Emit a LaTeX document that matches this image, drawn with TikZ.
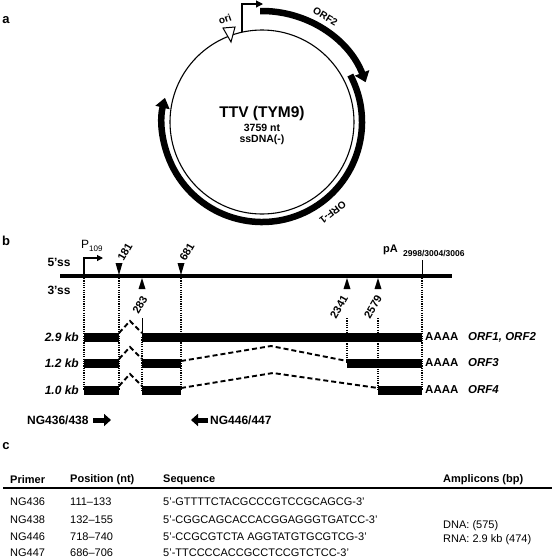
\documentclass[tikz,border=0pt]{standalone}
\usepackage{fontspec}
\setmainfont{Liberation Sans}
\usetikzlibrary{arrows.meta}
\begin{document}
\begin{tikzpicture}[x=1pt,y=-1pt,
  panel/.style={font=\bfseries\fontsize{13}{13}\selectfont, inner sep=0pt},
  blbl/.style={font=\bfseries\fontsize{12}{12}\selectfont, inner sep=0pt},
  numlbl/.style={font=\bfseries\fontsize{11}{11}\selectfont, inner sep=0pt, rotate=60},
  rowlbl/.style={font=\bfseries\itshape\fontsize{12}{12}\selectfont, inner sep=0pt, anchor=east},
  polya/.style={font=\bfseries\fontsize{11.5}{11.5}\selectfont, inner sep=0pt, anchor=west},
  orflbl/.style={font=\bfseries\itshape\fontsize{11.5}{11.5}\selectfont, inner sep=0pt, anchor=west},
  circlbl/.style={font=\bfseries\fontsize{10}{10}\selectfont, inner sep=0pt},
  dotline/.style={line width=1.2pt, dash pattern=on 1.2pt off 1.1pt},
  dashlink/.style={line width=1.9pt, dash pattern=on 5pt off 3pt},
  thead/.style={font=\bfseries\fontsize{11}{11}\selectfont, inner sep=0pt, anchor=west},
  tcell/.style={font=\fontsize{11}{11}\selectfont, inner sep=0pt, anchor=west},
  blockarrow/.style={line width=5pt, -{Triangle[length=7pt,width=12pt]}}
]
\useasboundingbox (0,0) rectangle (552,558);

% ---------------- panel a ----------------
\node[panel] (pa) at (6,20) {a};
\begin{scope}[shift={(262,122)}, y=1pt]
  \draw[line width=1.1pt] (0,0) circle[radius=92];
  % ORF2
  \draw[line width=6.5pt, -{Triangle[length=10pt,width=15pt]}] (91:111) arc[start angle=91, end angle=21, radius=111];
  % ORF1
  \draw[line width=6.5pt, -{Triangle[length=10pt,width=14pt]}] (28:100) arc[start angle=28, end angle=-194, radius=100];
  % ori
  \draw[line width=1pt, fill=white] (-39,94) -- (-27,95) -- (-31,80) -- cycle;
  \node[circlbl, rotate=20] (ori) at (-37,103) {ori};
  % promoter
  \draw[line width=1.1pt, -{Triangle[length=7pt,width=7pt]}] (-20,90) -- (-20,118) -- (1,118);
  \node[circlbl, rotate=-31] (orf2) at (59:123) {ORF2};
  \node[circlbl, rotate=-142] (orf1) at (-52:115) {ORF-1};
\end{scope}
\node[font=\bfseries\fontsize{15.5}{15.5}\selectfont, inner sep=0pt] (ttv) at (262,113) {TTV (TYM9)};
\node[font=\bfseries\fontsize{10.5}{10.5}\selectfont, inner sep=0pt] (nt) at (262,128) {3759 nt};
\node[font=\bfseries\fontsize{10.5}{10.5}\selectfont, inner sep=0pt] (ss) at (262,140) {ssDNA(-)};

% ---------------- panel b ----------------
\node[panel] (pb) at (6,241) {b};
\node[blbl] (s5) at (59,262) {5'ss};
\node[blbl] (s3) at (59,290) {3'ss};
\draw[line width=4pt] (60,276) -- (452,276);
% promoter
\draw[line width=1.1pt, -{Triangle[length=6pt,width=6pt]}] (84,276) -- (84,258) -- (103,258);
\node[font=\fontsize{12}{12}\selectfont, inner sep=0pt, anchor=west] (p109) at (81,246) {P\raisebox{-0.35ex}{\fontsize{8}{8}\selectfont 109}};
% 5'ss markers
\fill (115.5,263) -- (122.5,263) -- (119,275) -- cycle;
\fill (177.5,263) -- (184.5,263) -- (181,275) -- cycle;
\node[numlbl] (n181) at (125,252) {181};
\node[numlbl] (n681) at (187,252) {681};
% 3'ss markers
\fill (138.5,289) -- (145.5,289) -- (142,278) -- cycle;
\fill (343.5,289) -- (350.5,289) -- (347,278) -- cycle;
\fill (374.5,289) -- (381.5,289) -- (378,278) -- cycle;
\node[numlbl] (n283) at (140,305) {283};
\node[numlbl] (n2341) at (339,307) {2341};
\node[numlbl] (n2579) at (373,307) {2579};
% pA
\draw[line width=1pt] (422,260) -- (422,276);
\node[font=\bfseries\fontsize{11}{11}\selectfont, inner sep=0pt, anchor=west] (pA) at (383,250) {pA};
\node[font=\bfseries\fontsize{8.5}{8.5}\selectfont, inner sep=0pt, anchor=west] (pAsub) at (403,253) {2998/3004/3006};
% vertical guides
\draw[dotline] (84,278) -- (84,390);
\draw[dotline] (119,278) -- (119,390);
\draw[line width=0.8pt] (142,318) -- (142,333);
\draw[dotline] (142,337) -- (142,390);
\draw[dotline] (181,278) -- (181,390);
\draw[dotline] (347,318) -- (347,363);
\draw[dotline] (378,318) -- (378,390);
\draw[dotline] (422,278) -- (422,390);
% transcripts
\fill (84,332.5) rectangle (119,341.5);
\fill (142,332.5) rectangle (422,341.5);
\fill (84,358.5) rectangle (119,367.5);
\fill (142,358.5) rectangle (181,367.5);
\fill (347,358.5) rectangle (422,367.5);
\fill (84,385.5) rectangle (119,394.5);
\fill (142,385.5) rectangle (181,394.5);
\fill (378,385.5) rectangle (422,394.5);
% splice links
\draw[dashlink] (119,333) -- (130,321) -- (142,333);
\draw[dashlink] (119,359) -- (130,347) -- (142,359);
\draw[dashlink] (119,386) -- (130,374) -- (142,386);
\draw[dashlink] (181,361) -- (271,346) -- (347,361);
\draw[dashlink] (181,388) -- (273,373) -- (378,388);
% row labels
\node[rowlbl] (r29) at (79,337) {2.9 kb};
\node[rowlbl] (r12) at (79,363) {1.2 kb};
\node[rowlbl] (r10) at (79,390) {1.0 kb};
\node[polya] (a1) at (425,337) {AAAA};
\node[polya] (a2) at (425,363) {AAAA};
\node[polya] (a3) at (425,390) {AAAA};
\node[orflbl] (o1) at (468,337) {ORF1, ORF2};
\node[orflbl] (o3) at (468,363) {ORF3};
\node[orflbl] (o4) at (468,390) {ORF4};
% primers
\node[blbl, anchor=west] (ng436) at (27,420) {NG436/438};
\coordinate (f1) at (93,420);
\coordinate (f2) at (111,420);
\draw[blockarrow] (f1) -- (f2);
\node[blbl, anchor=west] (ng446) at (210,420) {NG446/447};
\coordinate (g1) at (208,420);
\coordinate (g2) at (191,420);
\draw[blockarrow] (g1) -- (g2);

% ---------------- panel c ----------------
\node[panel] (pc) at (6,446) {c};
\node[thead] (h1) at (10,480) {Primer};
\node[thead] (h2) at (70,480) {Position (nt)};
\node[thead] (h3) at (163,480) {Sequence};
\node[thead] (h4) at (443,480) {Amplicons (bp)};
\draw[line width=2pt] (3,488) -- (552,488);
\node[tcell] (c11) at (10,502) {NG436};
\node[tcell] (c12) at (70,502) {111--133};
\node[tcell] (c13) at (163,502) {5'-GTTTTCTACGCCCGTCCGCAGCG-3'};
\node[tcell] (c21) at (10,520) {NG438};
\node[tcell] (c22) at (70,520) {132--155};
\node[tcell] (c23) at (163,520) {5'-CGGCAGCACCACGGAGGGTGATCC-3'};
\node[tcell] (c31) at (10,537) {NG446};
\node[tcell] (c32) at (70,537) {718--740};
\node[tcell] (c33) at (163,537) {5'-CCGCGTCTA AGGTATGTGCGTCG-3'};
\node[tcell] (c41) at (10,553) {NG447};
\node[tcell] (c42) at (70,553) {686--706};
\node[tcell] (c43) at (163,553) {5'-TTCCCCACCGCCTCCGTCTCC-3'};
\node[tcell] (am1) at (443,526) {DNA: (575)};
\node[tcell] (am2) at (443,540) {RNA: 2.9 kb (474)};
\end{tikzpicture}
\end{document}
